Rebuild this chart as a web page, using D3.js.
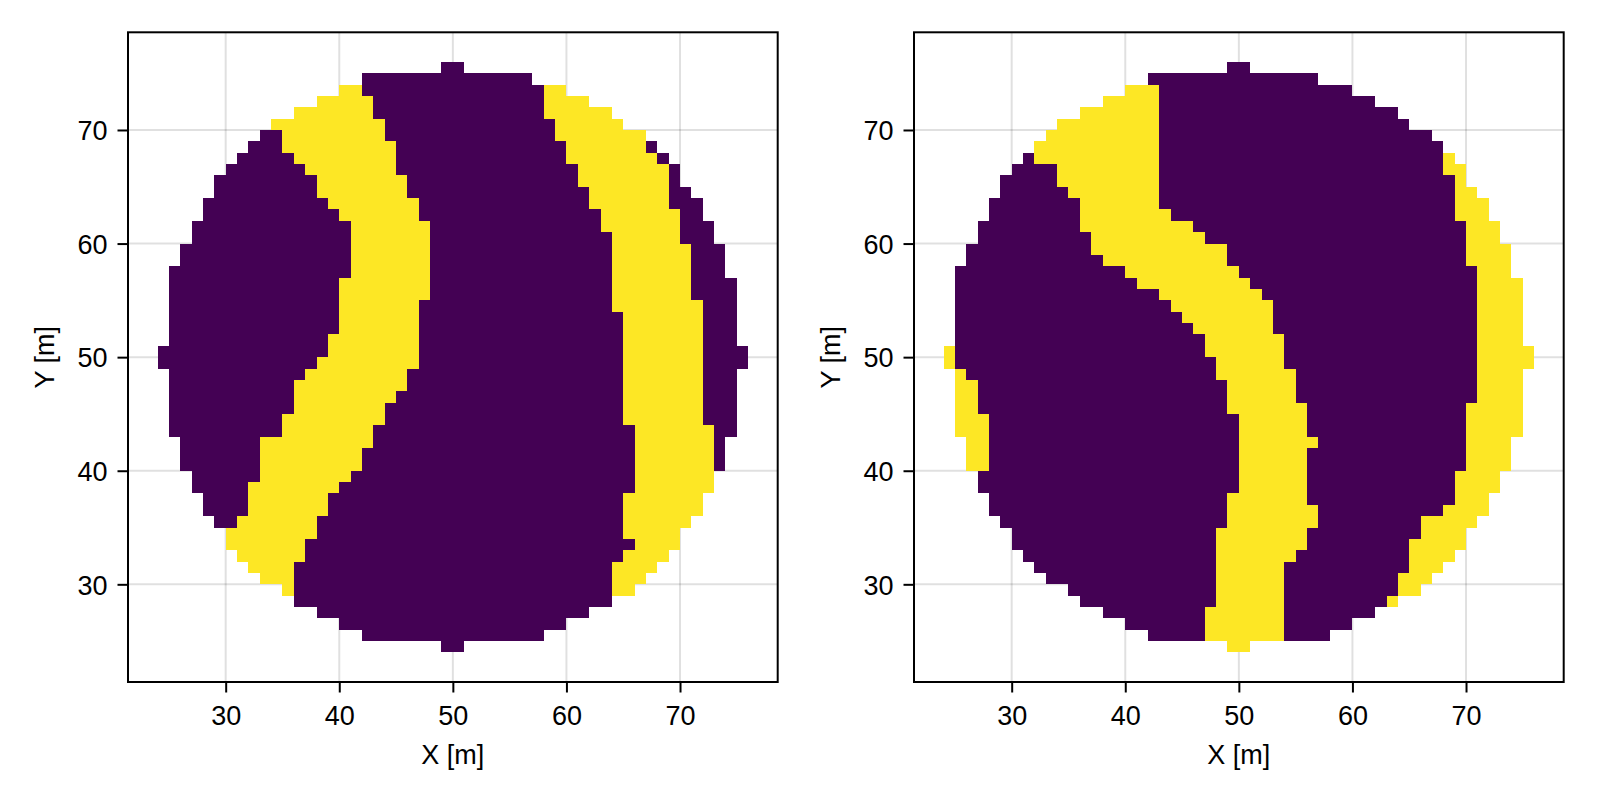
<!DOCTYPE html>
<html>
<head>
<meta charset="utf-8">
<script src="https://cdn.jsdelivr.net/npm/d3@7"></script>
<style>
  body { margin: 0; background: #fff; }
  text { font-family: "Liberation Sans", Arial, sans-serif; }
</style>
</head>
<body>
<svg id="chart" width="1600" height="800"></svg>
<script>
// y (lower edge) of each grid row, top row first
var rowY = [75, 74, 73, 72, 71, 70, 69, 68, 67, 66, 65, 64, 63, 62, 61, 60, 59, 58,
            57, 56, 55, 54, 53, 52, 51, 50, 49, 48, 47, 46, 45, 44, 43, 42, 41, 40,
            39, 38, 37, 36, 35, 34, 33, 32, 31, 30, 29, 28, 27, 26, 25, 24];

// each row: x0, value, x1, value, x2 ... (value 0 = purple, 1 = yellow)
var leftRows = [
  [49,0,51],
  [42,0,57],
  [40,1,42,0,58,1,60],
  [38,1,43,0,58,1,62],
  [36,1,43,0,58,1,64],
  [34,1,44,0,59,1,65],
  [33,0,35,1,44,0,59,1,67],
  [32,0,35,1,45,0,60,1,67,0,68],
  [31,0,36,1,45,0,60,1,68,0,69],
  [30,0,37,1,45,0,61,1,69,0,70],
  [29,0,38,1,46,0,61,1,69,0,70],
  [29,0,38,1,46,0,62,1,69,0,71],
  [28,0,39,1,47,0,62,1,69,0,72],
  [28,0,40,1,47,0,63,1,70,0,72],
  [27,0,41,1,48,0,63,1,70,0,73],
  [27,0,41,1,48,0,64,1,70,0,73],
  [26,0,41,1,48,0,64,1,71,0,74],
  [26,0,41,1,48,0,64,1,71,0,74],
  [25,0,41,1,48,0,64,1,71,0,74],
  [25,0,40,1,48,0,64,1,71,0,75],
  [25,0,40,1,48,0,64,1,71,0,75],
  [25,0,40,1,47,0,64,1,72,0,75],
  [25,0,40,1,47,0,65,1,72,0,75],
  [25,0,40,1,47,0,65,1,72,0,75],
  [25,0,39,1,47,0,65,1,72,0,75],
  [24,0,39,1,47,0,65,1,72,0,76],
  [24,0,38,1,47,0,65,1,72,0,76],
  [25,0,37,1,46,0,65,1,72,0,75],
  [25,0,36,1,46,0,65,1,72,0,75],
  [25,0,36,1,45,0,65,1,72,0,75],
  [25,0,36,1,44,0,65,1,72,0,75],
  [25,0,35,1,44,0,65,1,72,0,75],
  [25,0,35,1,43,0,66,1,73,0,75],
  [26,0,33,1,43,0,66,1,73,0,74],
  [26,0,33,1,42,0,66,1,73,0,74],
  [26,0,33,1,42,0,66,1,73,0,74],
  [27,0,33,1,41,0,66,1,73],
  [27,0,32,1,40,0,66,1,73],
  [28,0,32,1,39,0,65,1,72],
  [28,0,32,1,39,0,65,1,72],
  [29,0,31,1,38,0,65,1,71],
  [30,1,38,0,65,1,70],
  [30,1,37,0,66,1,70],
  [31,1,37,0,65,1,69],
  [32,1,36,0,64,1,68],
  [33,1,36,0,64,1,67],
  [35,1,36,0,64,1,66],
  [36,0,64],
  [38,0,62],
  [40,0,60],
  [42,0,58],
  [49,0,51]
];

var rightRows = [
  [49,0,51],
  [42,0,57],
  [40,1,43,0,60],
  [38,1,43,0,62],
  [36,1,43,0,64],
  [34,1,43,0,65],
  [33,1,43,0,67],
  [32,1,43,0,68],
  [31,0,32,1,43,0,68,1,69],
  [30,0,34,1,43,0,68,1,70],
  [29,0,34,1,43,0,69,1,70],
  [29,0,35,1,43,0,69,1,71],
  [28,0,36,1,43,0,69,1,72],
  [28,0,36,1,44,0,69,1,72],
  [27,0,36,1,46,0,70,1,73],
  [27,0,37,1,47,0,70,1,73],
  [26,0,37,1,49,0,70,1,74],
  [26,0,38,1,49,0,70,1,74],
  [25,0,40,1,50,0,71,1,74],
  [25,0,41,1,51,0,71,1,75],
  [25,0,43,1,52,0,71,1,75],
  [25,0,44,1,53,0,71,1,75],
  [25,0,45,1,53,0,71,1,75],
  [25,0,46,1,53,0,71,1,75],
  [25,0,47,1,54,0,71,1,75],
  [24,1,25,0,47,1,54,0,71,1,76],
  [24,1,25,0,48,1,54,0,71,1,76],
  [25,1,26,0,48,1,55,0,71,1,75],
  [25,1,27,0,49,1,55,0,71,1,75],
  [25,1,27,0,49,1,55,0,71,1,75],
  [25,1,27,0,49,1,56,0,70,1,75],
  [25,1,28,0,50,1,56,0,70,1,75],
  [25,1,28,0,50,1,56,0,70,1,75],
  [26,1,28,0,50,1,57,0,70,1,74],
  [26,1,28,0,50,1,56,0,70,1,74],
  [26,1,28,0,50,1,56,0,70,1,74],
  [27,0,50,1,56,0,69,1,73],
  [27,0,50,1,56,0,69,1,73],
  [28,0,49,1,56,0,69,1,72],
  [28,0,49,1,57,0,68,1,72],
  [29,0,49,1,57,0,66,1,71],
  [30,0,48,1,56,0,66,1,70],
  [30,0,48,1,56,0,65,1,70],
  [31,0,48,1,55,0,65,1,69],
  [32,0,48,1,54,0,65,1,68],
  [33,0,48,1,54,0,64,1,67],
  [35,0,48,1,54,0,64,1,66],
  [36,0,48,1,54,0,63,1,64],
  [38,0,47,1,54,0,62],
  [40,0,47,1,54,0,60],
  [42,0,47,1,54,0,58],
  [49,1,51]
];

var tickValues = [30, 40, 50, 60, 70];
var limits = [21.4, 78.6];
var colors = ["#440154", "#fde725"];

var svg = d3.select("#chart"),
    plotTop = 32.3,
    size = 649.7,
    fontSize = 27;

svg.append("rect").attr("width", 1600).attr("height", 800).attr("fill", "#fff");

function cells(rows) {
  var out = [];
  rows.forEach(function(r, i) {
    for (var k = 0; k + 2 < r.length; k += 2) {
      for (var cx = r[k]; cx < r[k + 2]; cx++) {
        out.push({x: cx, y: rowY[i], v: r[k + 1]});
      }
    }
  });
  return out;
}

function drawPanel(left, rows) {
  var x = d3.scaleLinear().domain(limits).range([left, left + size]);
  var y = d3.scaleLinear().domain(limits).range([plotTop + size, plotTop]);
  var g = svg.append("g");

  // grid
  g.selectAll(".gx").data(tickValues).enter().append("line")
      .attr("x1", d => x(d)).attr("x2", d => x(d))
      .attr("y1", plotTop).attr("y2", plotTop + size)
      .attr("stroke", "rgba(0,0,0,0.12)").attr("stroke-width", 2);
  g.selectAll(".gy").data(tickValues).enter().append("line")
      .attr("y1", d => y(d)).attr("y2", d => y(d))
      .attr("x1", left).attr("x2", left + size)
      .attr("stroke", "rgba(0,0,0,0.12)").attr("stroke-width", 2);

  // heatmap cells
  g.selectAll("rect.cell").data(cells(rows)).enter().append("rect")
      .attr("class", "cell")
      .attr("x", d => x(d.x))
      .attr("y", d => y(d.y + 1))
      .attr("width", d => x(d.x + 1) - x(d.x))
      .attr("height", d => y(d.y) - y(d.y + 1))
      .attr("fill", d => colors[d.v])
      .attr("shape-rendering", "crispEdges");

  // axes
  var xa = g.append("g")
      .attr("transform", "translate(0," + (plotTop + size) + ")")
      .call(d3.axisBottom(x).tickValues(tickValues).tickSize(10.5).tickPadding(0));
  xa.selectAll("text").attr("y", 43.3).attr("dy", null);

  var ya = g.append("g")
      .attr("transform", "translate(" + left + ",0)")
      .call(d3.axisLeft(y).tickValues(tickValues).tickSize(10.5).tickPadding(10));
  ya.selectAll("text").attr("dy", "0.36em");

  [xa, ya].forEach(function(a) {
    a.select(".domain").remove();
    a.selectAll("line").attr("stroke", "#000").attr("stroke-width", 2);
    a.selectAll("text").attr("fill", "#000")
        .style("font-size", fontSize + "px")
        .style("font-family", "'Liberation Sans', Arial, sans-serif");
  });

  // frame
  g.append("rect")
      .attr("x", left).attr("y", plotTop)
      .attr("width", size).attr("height", size)
      .attr("fill", "none").attr("stroke", "#000").attr("stroke-width", 2);

  // axis labels
  g.append("text")
      .attr("x", left + size / 2).attr("y", 764)
      .attr("text-anchor", "middle")
      .style("font-size", fontSize + "px")
      .text("X [m]");
  g.append("text")
      .attr("transform", "translate(" + (left - 74) + "," + (plotTop + size / 2) + ") rotate(-90)")
      .attr("text-anchor", "middle")
      .style("font-size", fontSize + "px")
      .text("Y [m]");
}

drawPanel(128, leftRows);
drawPanel(914, rightRows);
</script>
</body>
</html>
